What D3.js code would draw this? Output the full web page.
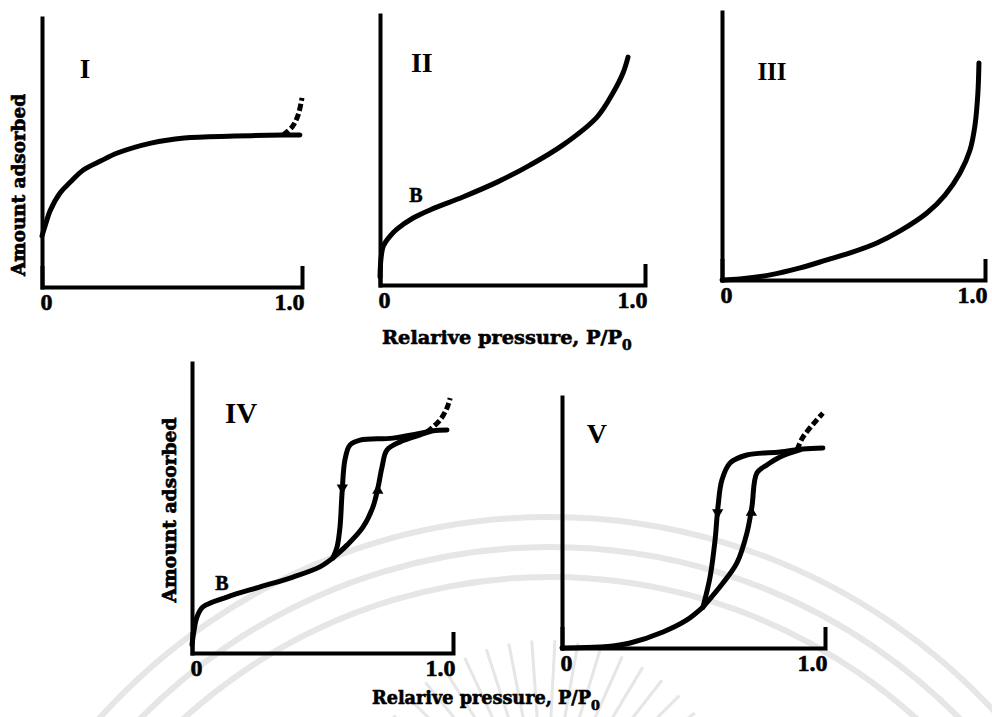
<!DOCTYPE html>
<html>
<head>
<meta charset="utf-8">
<script src="https://cdn.jsdelivr.net/npm/d3@7"></script>
<style>
  body { margin: 0; background: #fff; }
  svg { display: block; }
</style>
</head>
<body>
<div id="chart"></div>
<script>
// every point is [relative pressure P/P0, amount adsorbed], both 0..1 of the panel axes
const xTickLabels = ["0", "1.0"];
const panelNames = ["I", "II", "III", "IV", "V"];

const typeI = [[0, 0.19], [0.016, 0.24], [0.031, 0.283], [0.07, 0.35], [0.109, 0.39], [0.159, 0.435],
  [0.225, 0.468], [0.29, 0.498], [0.419, 0.535], [0.547, 0.554], [0.74, 0.561], [0.927, 0.565], [0.992, 0.565]];
const typeIDash = [[0.927, 0.565], [0.962, 0.595], [0.985, 0.639], [1.0, 0.703]];

const typeII = [[0, 0.03], [0.004, 0.1], [0.013, 0.145], [0.038, 0.181], [0.064, 0.207], [0.125, 0.248],
  [0.189, 0.278], [0.313, 0.326], [0.442, 0.381], [0.566, 0.444], [0.691, 0.519], [0.819, 0.622],
  [0.879, 0.711], [0.917, 0.785], [0.936, 0.844]];

const typeIII = [[0, 0], [0.068, 0.004], [0.183, 0.019], [0.297, 0.045], [0.399, 0.075], [0.487, 0.101],
  [0.589, 0.138], [0.677, 0.183], [0.779, 0.25], [0.848, 0.317], [0.905, 0.399], [0.943, 0.485],
  [0.962, 0.578], [0.973, 0.698], [0.977, 0.81]];

const typeIVLow = [[0, 0.028], [0.008, 0.079], [0.019, 0.124], [0.042, 0.159], [0.134, 0.193],
  [0.261, 0.228], [0.387, 0.262], [0.49, 0.297], [0.54, 0.328]];
const typeIVAds = [[0.54, 0.328], [0.594, 0.372], [0.655, 0.434], [0.693, 0.503], [0.713, 0.572],
  [0.728, 0.641], [0.747, 0.7], [0.797, 0.728], [0.874, 0.752], [0.923, 0.766], [0.977, 0.769]];
const typeIVDes = [[0.54, 0.328], [0.556, 0.366], [0.567, 0.434], [0.575, 0.552], [0.586, 0.666],
  [0.605, 0.717], [0.644, 0.734], [0.77, 0.741], [0.9, 0.762]];
const typeIVDash = [[0.9, 0.762], [0.95, 0.803], [0.977, 0.845], [0.989, 0.879]];

const typeVLow = [[0, 0], [0.144, 0.004], [0.194, 0.008], [0.259, 0.02], [0.384, 0.064], [0.475, 0.112],
  [0.536, 0.163]];
const typeVDes = [[0.536, 0.163], [0.563, 0.283], [0.582, 0.43], [0.593, 0.562], [0.608, 0.669],
  [0.639, 0.737], [0.703, 0.769], [0.829, 0.781], [0.916, 0.793], [0.992, 0.797]];
const typeVAds = [[0.536, 0.163], [0.612, 0.259], [0.665, 0.339], [0.703, 0.458], [0.722, 0.562],
  [0.741, 0.697], [0.779, 0.729], [0.829, 0.761], [0.905, 0.789]];
const typeVDash = [[0.894, 0.789], [0.916, 0.84], [0.992, 0.936]];

// hysteresis direction marks: [x, y, +1 up / -1 down]
const arrowsIV = [[0.576, 0.57, -1], [0.712, 0.56, 1]];
const arrowsV = [[0.592, 0.54, -1], [0.72, 0.54, 1]];

const W = 992, H = 717;
const svg = d3.select("#chart").append("svg").attr("width", W).attr("height", H);
const serif = "'DejaVu Serif', serif";
const times = "'Liberation Serif', serif";

// faint watermark seal in the lower half of the scan
const mark = svg.append("g").attr("fill", "none").attr("stroke", "#e6e6e6");
[545, 575, 605].forEach(r => {
  mark.append("path")
    .attr("transform", "translate(550,1122)")
    .attr("stroke-width", 6)
    .attr("d", d3.arc()({ innerRadius: r, outerRadius: r, startAngle: -1.2, endAngle: 1.2 }));
});
d3.range(-60, 61, 7).forEach(a => {
  const t = (a - 90) * Math.PI / 180;
  mark.append("line")
    .attr("stroke-width", 3)
    .attr("x1", 545 + 95 * Math.cos(t)).attr("y1", 830 + 95 * Math.sin(t))
    .attr("x2", 545 + 190 * Math.cos(t)).attr("y2", 830 + 190 * Math.sin(t));
});

const panels = [
  { name: panelNames[0], box: [42, 302, 287, 18], lab: [0.165, 0.777, 27],
    solid: [typeI], dashed: [typeIDash], arrows: [] },
  { name: panelNames[1], box: [380, 645, 285, 15], lab: [0.158, 0.789, 28], b: [0.136, 0.307],
    solid: [typeII], dashed: [], arrows: [] },
  { name: panelNames[2], box: [722, 985, 280, 12], lab: [0.19, 0.746, 25],
    solid: [typeIII], dashed: [], arrows: [] },
  { name: panelNames[3], box: [192, 453, 653, 363], lab: [0.188, 0.793, 29], b: [0.115, 0.217],
    solid: [typeIVLow, typeIVAds, typeIVDes], dashed: [typeIVDash], arrows: arrowsIV },
  { name: panelNames[4], box: [562, 825, 648, 397], lab: [0.133, 0.817, 28],
    solid: [typeVLow, typeVDes, typeVAds], dashed: [typeVDash], arrows: arrowsV }
];

panels.forEach(p => {
  const [l, r, b, t] = p.box;
  const x = d3.scaleLinear().domain([0, 1]).range([l, r]);
  const y = d3.scaleLinear().domain([0, 1]).range([b, t]);
  const g = svg.append("g");

  const xAxis = g.append("g").attr("transform", `translate(0,${b})`)
    .call(d3.axisBottom(x).tickValues([0, 1]).tickSize(0).tickSizeOuter(-19)
      .tickFormat((d, i) => xTickLabels[i]));
  const yAxis = g.append("g").attr("transform", `translate(${l},0)`)
    .call(d3.axisLeft(y).tickValues([]).tickSizeOuter(0));
  [xAxis, yAxis].forEach(a => a.select(".domain")
    .attr("stroke", "#000").attr("stroke-width", 4).attr("stroke-linecap", "square"));
  xAxis.selectAll(".tick text")
    .attr("fill", "#000").attr("font-family", times).attr("font-weight", "bold")
    .attr("font-size", 24).attr("stroke", "#000").attr("stroke-width", 0.6)
    .attr("y", 6).attr("dy", "0.71em")
    .attr("dx", (d, i) => i === 0 ? 4 : -13);

  const line = d3.line().x(d => x(d[0])).y(d => y(d[1])).curve(d3.curveCatmullRom.alpha(0.5));
  p.solid.forEach(s => g.append("path").attr("d", line(s))
    .attr("fill", "none").attr("stroke", "#000").attr("stroke-width", 5)
    .attr("stroke-linecap", "round").attr("stroke-linejoin", "round"));
  p.dashed.forEach(s => g.append("path").attr("d", line(s))
    .attr("fill", "none").attr("stroke", "#000").attr("stroke-width", 5)
    .attr("stroke-dasharray", "7,3"));

  g.selectAll(".arrow").data(p.arrows).join("path").attr("class", "arrow")
    .attr("d", d3.symbol(d3.symbolTriangle, 55))
    .attr("transform", d => `translate(${x(d[0])},${y(d[1])}) rotate(${d[2] > 0 ? 0 : 180})`)
    .attr("fill", "#000");

  g.append("text").attr("x", x(p.lab[0])).attr("y", y(p.lab[1]))
    .attr("text-anchor", "middle").attr("font-family", times).attr("font-weight", "bold")
    .attr("font-size", p.lab[2]).text(p.name);
  if (p.b) {
    g.append("text").attr("x", x(p.b[0])).attr("y", y(p.b[1]))
      .attr("text-anchor", "middle").attr("font-family", times).attr("font-weight", "bold")
      .attr("font-size", 20).attr("stroke", "#000").attr("stroke-width", 0.5).text("B");
  }
});

// axis titles
function yTitle(cx, cy, len) {
  svg.append("text").attr("transform", `translate(${cx},${cy}) rotate(-90)`)
    .attr("text-anchor", "middle").attr("dy", "0.35em")
    .attr("font-family", serif).attr("font-weight", "bold").attr("font-size", 18)
    .attr("stroke", "#000").attr("stroke-width", 0.7)
    .attr("textLength", len).attr("lengthAdjust", "spacingAndGlyphs")
    .text("Amount adsorbed");
}
// font size is fitted so the whole title (with its subscript) spans len pixels
function xTitle(x0, base, len) {
  const t = svg.append("text").attr("x", x0).attr("y", base)
    .attr("font-family", serif).attr("font-weight", "bold").attr("font-size", 18)
    .attr("stroke", "#000").attr("stroke-width", 0.6);
  t.append("tspan").text("Relarive pressure, P/P");
  t.append("tspan").attr("font-size", 13).attr("dy", 6).text("0");
  const f = 18 * len / t.node().getComputedTextLength();
  t.attr("font-size", f);
  t.select("tspan:last-child").attr("font-size", f * 0.72).attr("dy", f * 0.33);
}
xTitle(382, 344, 250);
xTitle(372, 704, 228);
yTitle(19, 185, 182);
yTitle(170, 510, 185);
</script>
</body>
</html>
